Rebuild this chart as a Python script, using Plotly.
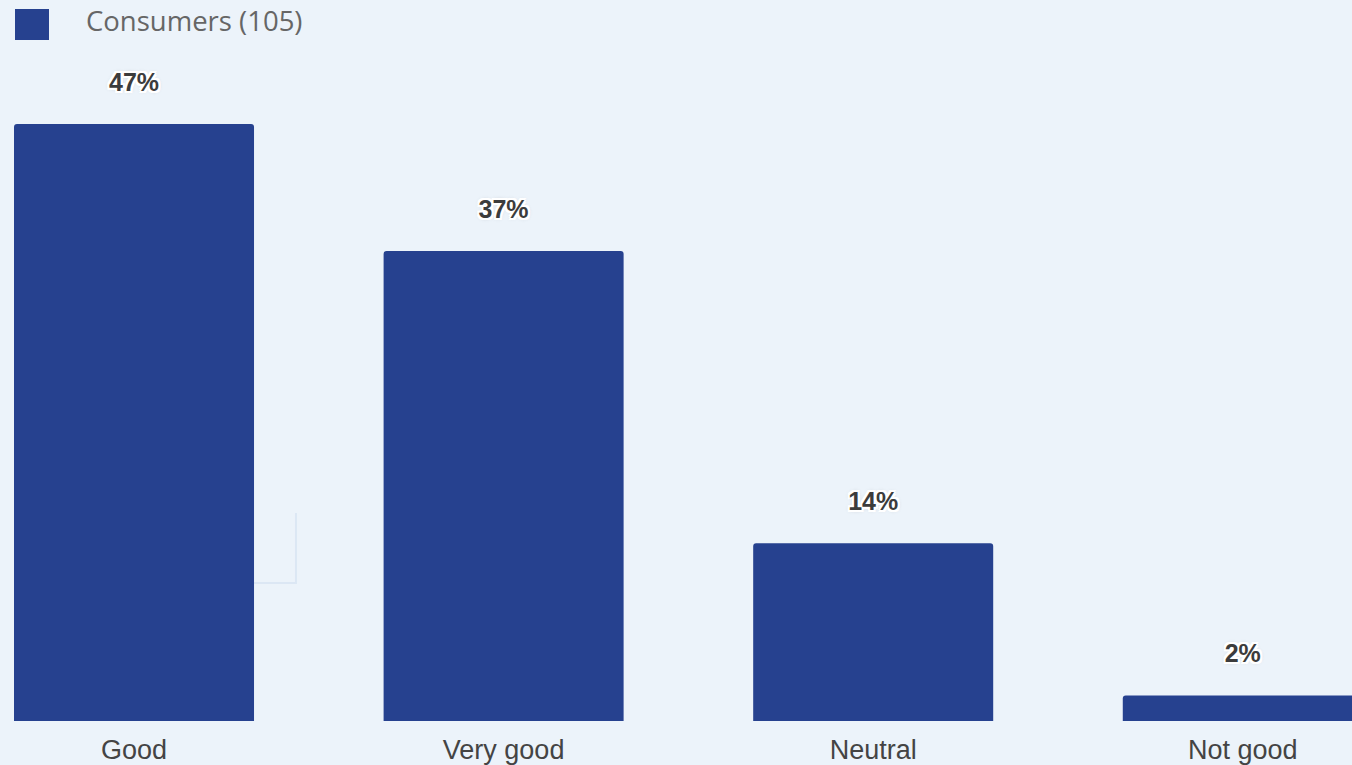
import plotly.graph_objects as go

# Survey result: rating share among consumers
categories = ["Good", "Very good", "Neutral", "Not good"]
shares = [47, 37, 14, 2]
series_name = "Consumers (105)"

BAR_COLOR = "#26418F"
BG_COLOR = "#ECF3FA"
LABEL_FONT = "Liberation Sans, Arial, sans-serif"
HALO = ", ".join(
    f"{dx}px {dy}px 0 #ffffff"
    for dx in (-2, 0, 2) for dy in (-2, 0, 2) if (dx, dy) != (0, 0)
) + ", 0 0 4px rgba(120,120,120,0.45)"

fig = go.Figure()
fig.add_trace(go.Bar(
    x=categories,
    y=shares,
    name=series_name,
    width=0.6494,
    marker=dict(color=BAR_COLOR, line=dict(width=0), cornerradius=3),
    showlegend=False,
    hoverinfo="skip",
))

# Percentage labels above each bar; an invisible marker keeps them clear of the bar top
fig.add_trace(go.Scatter(
    x=categories,
    y=shares,
    mode="markers+text",
    text=[f"{v}%" for v in shares],
    textposition="top center",
    marker=dict(size=42, color="rgba(0,0,0,0)"),
    textfont=dict(family=LABEL_FONT, size=25, color="#3c3c3c", weight="bold",
                  shadow=HALO),
    cliponaxis=False,
    showlegend=False,
    hoverinfo="skip",
))

# Legend: swatch + series name, top-left
fig.add_shape(
    type="rect", xref="paper", yref="paper",
    xsizemode="pixel", ysizemode="pixel", xanchor=0, yanchor=1,
    x0=15, x1=49, y0=-9, y1=-40,
    fillcolor=BAR_COLOR, line=dict(width=0), layer="above",
)
fig.add_annotation(
    xref="paper", yref="paper", x=0, y=1, xshift=84, yshift=-20,
    xanchor="left", yanchor="middle", showarrow=False,
    text=series_name,
    font=dict(family="Open Sans, sans-serif", size=27.5, color="#666666"),
)

# Faint guide lines left in the background
fig.add_shape(
    type="path", xref="paper", yref="paper",
    path="M 0.1879 0.1914 L 0.2189 0.1914 L 0.2189 0.2885",
    line=dict(color="#DCE7F4", width=2), layer="below",
)

fig.update_layout(
    width=1352, height=765,
    margin=dict(l=0, r=0, t=0, b=44),
    paper_bgcolor=BG_COLOR, plot_bgcolor=BG_COLOR,
    bargap=0.35,
    xaxis=dict(
        type="category", range=[-0.3626, 3.2955],
        showgrid=False, zeroline=False, showline=False, ticks="",
        tickfont=dict(family=LABEL_FONT, size=27, color="#444444"),
        ticklabelstandoff=10,
        automargin=False,
    ),
    yaxis=dict(
        range=[0, 721 / 12.7], visible=False, showgrid=False, zeroline=False,
        automargin=False,
    ),
)

fig.write_html("out.html")
